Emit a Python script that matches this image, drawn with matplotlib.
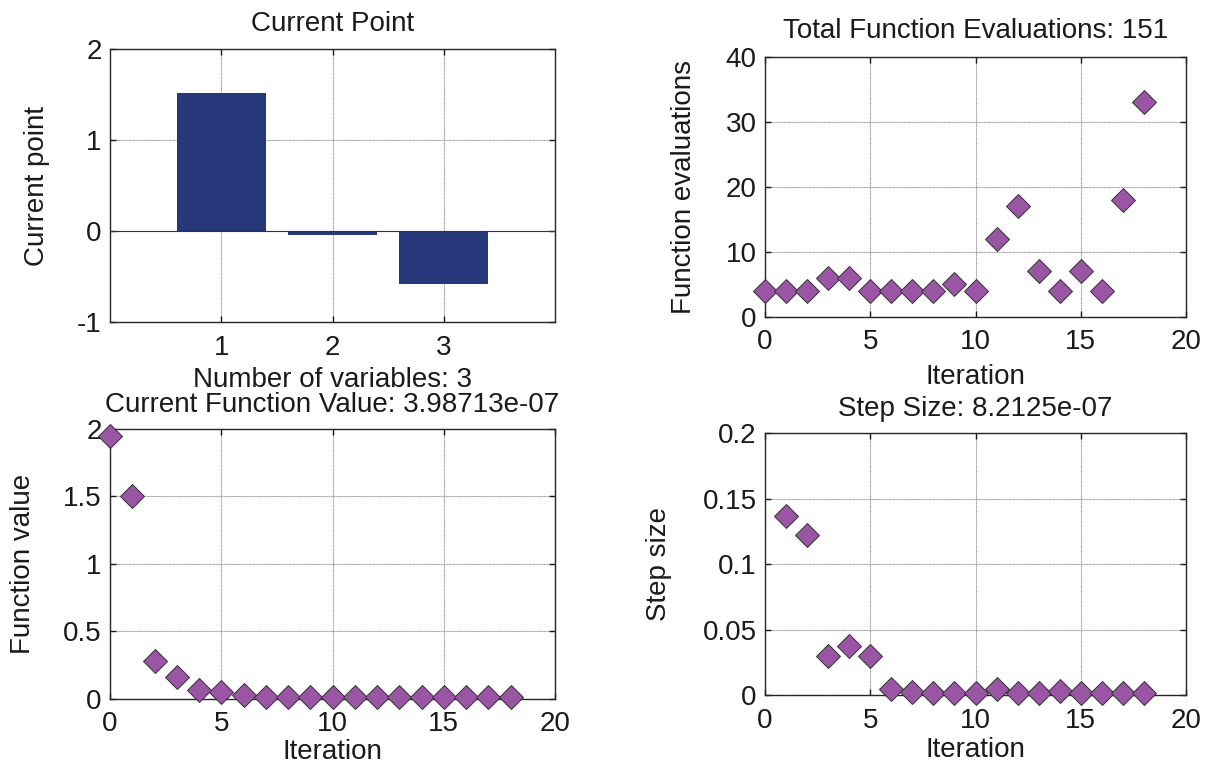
import numpy as np
import matplotlib
matplotlib.use("Agg")
import matplotlib.pyplot as plt

plt.rcParams['font.family'] = ['Liberation Sans', 'DejaVu Sans']
plt.rcParams['font.size'] = 20
plt.rcParams['axes.titlesize'] = 20
plt.rcParams['axes.labelsize'] = 20
plt.rcParams['axes.unicode_minus'] = False
plt.rcParams['text.color'] = '0.1'
plt.rcParams['axes.labelcolor'] = '0.1'
plt.rcParams['xtick.color'] = '0.1'
plt.rcParams['ytick.color'] = '0.1'

# data
var_idx = [1, 2, 3]
cur_point = [1.52, -0.04, -0.58]

iters = list(range(19))
f_evals = [4, 4, 4, 6, 6, 4, 4, 4, 4, 5, 4, 12, 17, 7, 4, 7, 4, 18, 33]
f_value = [1.95, 1.50, 0.28, 0.165, 0.065, 0.055, 0.03, 0.012, 0.012, 0.012,
           0.012, 0.012, 0.012, 0.012, 0.012, 0.012, 0.012, 0.012, 0.012]

step_iters = list(range(1, 19))
step_size = [0.137, 0.1225, 0.030, 0.0375, 0.030, 0.0043, 0.0025, 0.0013, 0.0013,
             0.0013, 0.0043, 0.0013, 0.0013, 0.003, 0.0013, 0.0013, 0.0013, 0.0013]

BAR_COL = '#26387A'
MK_FACE = '#9A55A5'

fig = plt.figure(figsize=(12.08, 7.64), dpi=100)
ax_tl = fig.add_axes([0.0911, 0.5785, 0.3684, 0.3573])
ax_tr = fig.add_axes([0.6333, 0.5851, 0.3485, 0.3403])
ax_bl = fig.add_axes([0.0911, 0.0851, 0.3684, 0.3534])
ax_br = fig.add_axes([0.6333, 0.0903, 0.3485, 0.3429])


def style(ax):
    ax.grid(True, color='0.6', linestyle=(0, (1, 0.5)), linewidth=0.8)
    ax.set_axisbelow(True)
    for s in ax.spines.values():
        s.set_color('0.15')
        s.set_linewidth(1.0)
    ax.tick_params(direction='in', top=True, right=True, length=4, width=1.0)
    ax.tick_params(axis='x', pad=9)
    ax.tick_params(axis='y', pad=6)


def diamonds(ax, x, y):
    ax.plot(x, y, linestyle='none', marker='D', markersize=12,
            markerfacecolor=MK_FACE, markeredgecolor='0.2', markeredgewidth=0.7,
            clip_on=False, zorder=4)


# current point
style(ax_tl)
ax_tl.bar(var_idx, cur_point, width=0.8, color=BAR_COL, zorder=2)
ax_tl.axhline(0, color='0.2', linewidth=0.8, zorder=3)
ax_tl.set_xlim(0, 4)
ax_tl.set_ylim(-1, 2)
ax_tl.set_xticks([1, 2, 3])
ax_tl.set_yticks([-1, 0, 1, 2])
ax_tl.set_title('Current Point', pad=13)
ax_tl.set_xlabel('Number of variables: 3')
ax_tl.set_ylabel('Current point')
ax_tl.xaxis.set_label_coords(0.5, -0.163)
ax_tl.yaxis.set_label_coords(-0.135, 0.5)

# function evaluations
style(ax_tr)
diamonds(ax_tr, iters, f_evals)
ax_tr.set_xlim(0, 20)
ax_tr.set_ylim(0, 40)
ax_tr.set_xticks([0, 5, 10, 15, 20])
ax_tr.set_yticks([0, 10, 20, 30, 40])
ax_tr.set_title('Total Function Evaluations: 151', pad=13.5)
ax_tr.set_xlabel('Iteration')
ax_tr.set_ylabel('Function evaluations')
ax_tr.xaxis.set_label_coords(0.5, -0.182)
ax_tr.yaxis.set_label_coords(-0.162, 0.5)

# function value
style(ax_bl)
diamonds(ax_bl, iters, f_value)
ax_bl.set_xlim(0, 20)
ax_bl.set_ylim(0, 2)
ax_bl.set_xticks([0, 5, 10, 15, 20])
ax_bl.set_yticks([0, 0.5, 1, 1.5, 2])
ax_bl.set_yticklabels(['0', '0.5', '1', '1.5', '2'])
ax_bl.set_title('Current Function Value: 3.98713e-07', pad=12.5)
ax_bl.set_xlabel('Iteration')
ax_bl.set_ylabel('Function value')
ax_bl.xaxis.set_label_coords(0.5, -0.148)
ax_bl.yaxis.set_label_coords(-0.166, 0.5)

# step size
style(ax_br)
diamonds(ax_br, step_iters, step_size)
ax_br.set_xlim(0, 20)
ax_br.set_ylim(0, 0.2)
ax_br.set_xticks([0, 5, 10, 15, 20])
ax_br.set_yticks([0, 0.05, 0.1, 0.15, 0.2])
ax_br.set_yticklabels(['0', '0.05', '0.1', '0.15', '0.2'])
ax_br.set_title('Step Size: 8.2125e-07', pad=12.5)
ax_br.set_xlabel('Iteration')
ax_br.set_ylabel('Step size')
ax_br.xaxis.set_label_coords(0.5, -0.162)
ax_br.yaxis.set_label_coords(-0.221, 0.5)

fig.savefig('out.png', dpi=100)
